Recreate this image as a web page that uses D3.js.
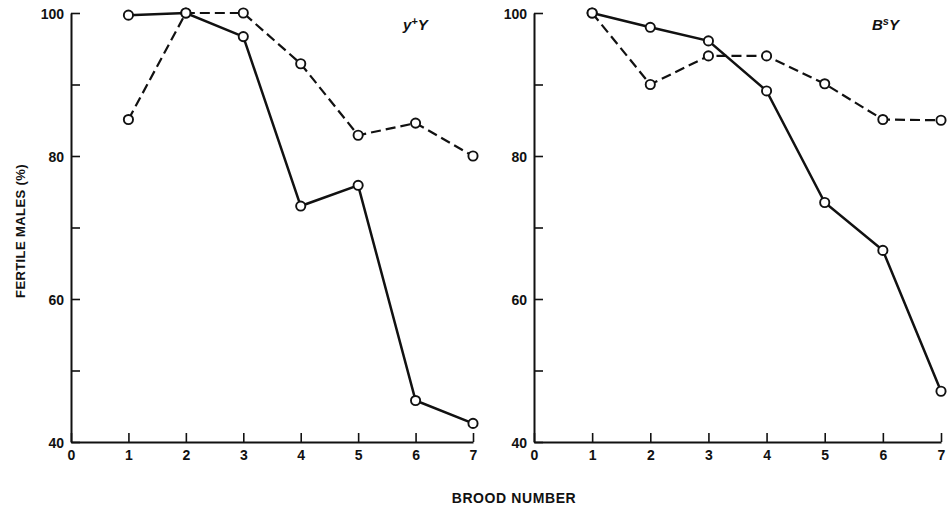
<!DOCTYPE html>
<html>
<head>
<meta charset="utf-8">
<script src="https://cdn.jsdelivr.net/npm/d3@7"></script>
<style>
  body { margin: 0; background: #fff; }
  svg text { font-family: "Liberation Sans", Arial, sans-serif; font-weight: bold; fill: #111; }
</style>
</head>
<body>
<div id="chart"></div>
<script>
// brood number on x, % fertile males on y
let broods = [1, 2, 3, 4, 5, 6, 7];
let xTicks = [0, 1, 2, 3, 4, 5, 6, 7];
let yTicks = [40, 50, 60, 70, 80, 90, 100];
let yLabels = [40, 60, 80, 100];

// left panel: y+Y
let yY_solid = [99.7, 100, 96.7, 73.0, 75.9, 45.8, 42.6];
let yY_dashed = [85.1, 100, 100, 92.9, 82.9, 84.6, 80.0];
// right panel: BsY
let BsY_solid = [100, 98.0, 96.1, 89.1, 73.5, 66.8, 47.1];
let BsY_dashed = [100, 90.0, 94.0, 94.0, 90.1, 85.1, 85.0];

let svgAttr = {width: 947, height: 506};
let panelTop = 13, panelBottom = 442;

let svg = d3.select('#chart').append('svg')
    .attr('width', svgAttr.width).attr('height', svgAttr.height);

let panels = [
    {x0: 71, x1: 473, solid: yY_solid, dashed: yY_dashed, base: 'y', sup: '+', tail: 'Y', labelX: 403},
    {x0: 534, x1: 941, solid: BsY_solid, dashed: BsY_dashed, base: 'B', sup: 's', tail: 'Y', labelX: 872}
];

panels.forEach(function (p) {
    let xScale = d3.scaleLinear().domain([0, 7]).range([p.x0, p.x1]);
    let yScale = d3.scaleLinear().domain([40, 100]).range([panelBottom, panelTop]);

    // y axis, ticks pointing inward
    let yAxis = d3.axisLeft(yScale).tickValues(yTicks).tickSize(-9).tickSizeOuter(0).tickPadding(7)
        .tickFormat(function (d) { return yLabels.indexOf(d) >= 0 ? d : ''; });
    let gy = svg.append('g').attr('transform', 'translate(' + p.x0 + ',0)').call(yAxis);
    gy.selectAll('text').style('font-size', '14px').attr('dy', '0.36em');

    // x axis
    let xAxis = d3.axisBottom(xScale).tickValues(xTicks).tickSize(-9).tickSizeOuter(0).tickPadding(8)
        .tickFormat(d3.format('d'));
    let gx = svg.append('g').attr('transform', 'translate(0,' + panelBottom + ')').call(xAxis);
    gx.selectAll('text').style('font-size', '14px');

    [gx, gy].forEach(function (g) {
        g.select('.domain').attr('stroke', '#111').attr('stroke-width', 2);
        g.selectAll('line').attr('stroke', '#111').attr('stroke-width', 1.6);
    });

    let line = d3.line()
        .x(function (d, i) { return xScale(broods[i]); })
        .y(function (d) { return yScale(d); });

    svg.append('path').datum(p.dashed).attr('d', line)
        .attr('fill', 'none').attr('stroke', '#111').attr('stroke-width', 2.2)
        .attr('stroke-dasharray', '10,5');
    svg.append('path').datum(p.solid).attr('d', line)
        .attr('fill', 'none').attr('stroke', '#111').attr('stroke-width', 2.5);

    [p.dashed, p.solid].forEach(function (series) {
        svg.append('g').selectAll('circle').data(series).enter().append('circle')
            .attr('cx', function (d, i) { return xScale(broods[i]); })
            .attr('cy', function (d) { return yScale(d); })
            .attr('r', 4.6)
            .attr('fill', '#fff').attr('stroke', '#111').attr('stroke-width', 1.9);
    });

    // genotype label
    let lab = svg.append('text').attr('x', p.labelX).attr('y', 30)
        .style('font-size', '15px').style('font-style', 'italic');
    lab.append('tspan').text(p.base);
    lab.append('tspan').attr('dy', -5).style('font-size', '11px').text(p.sup);
    lab.append('tspan').attr('dy', 5).text(p.tail);
});

// axis titles
svg.append('text').attr('transform', 'translate(25,231) rotate(-90)')
    .attr('text-anchor', 'middle').style('font-size', '13px').style('letter-spacing', '0.4px')
    .text('FERTILE MALES (%)');
svg.append('text').attr('x', 514).attr('y', 503)
    .attr('text-anchor', 'middle').style('font-size', '14px').style('letter-spacing', '0.6px')
    .text('BROOD NUMBER');
</script>
</body>
</html>
